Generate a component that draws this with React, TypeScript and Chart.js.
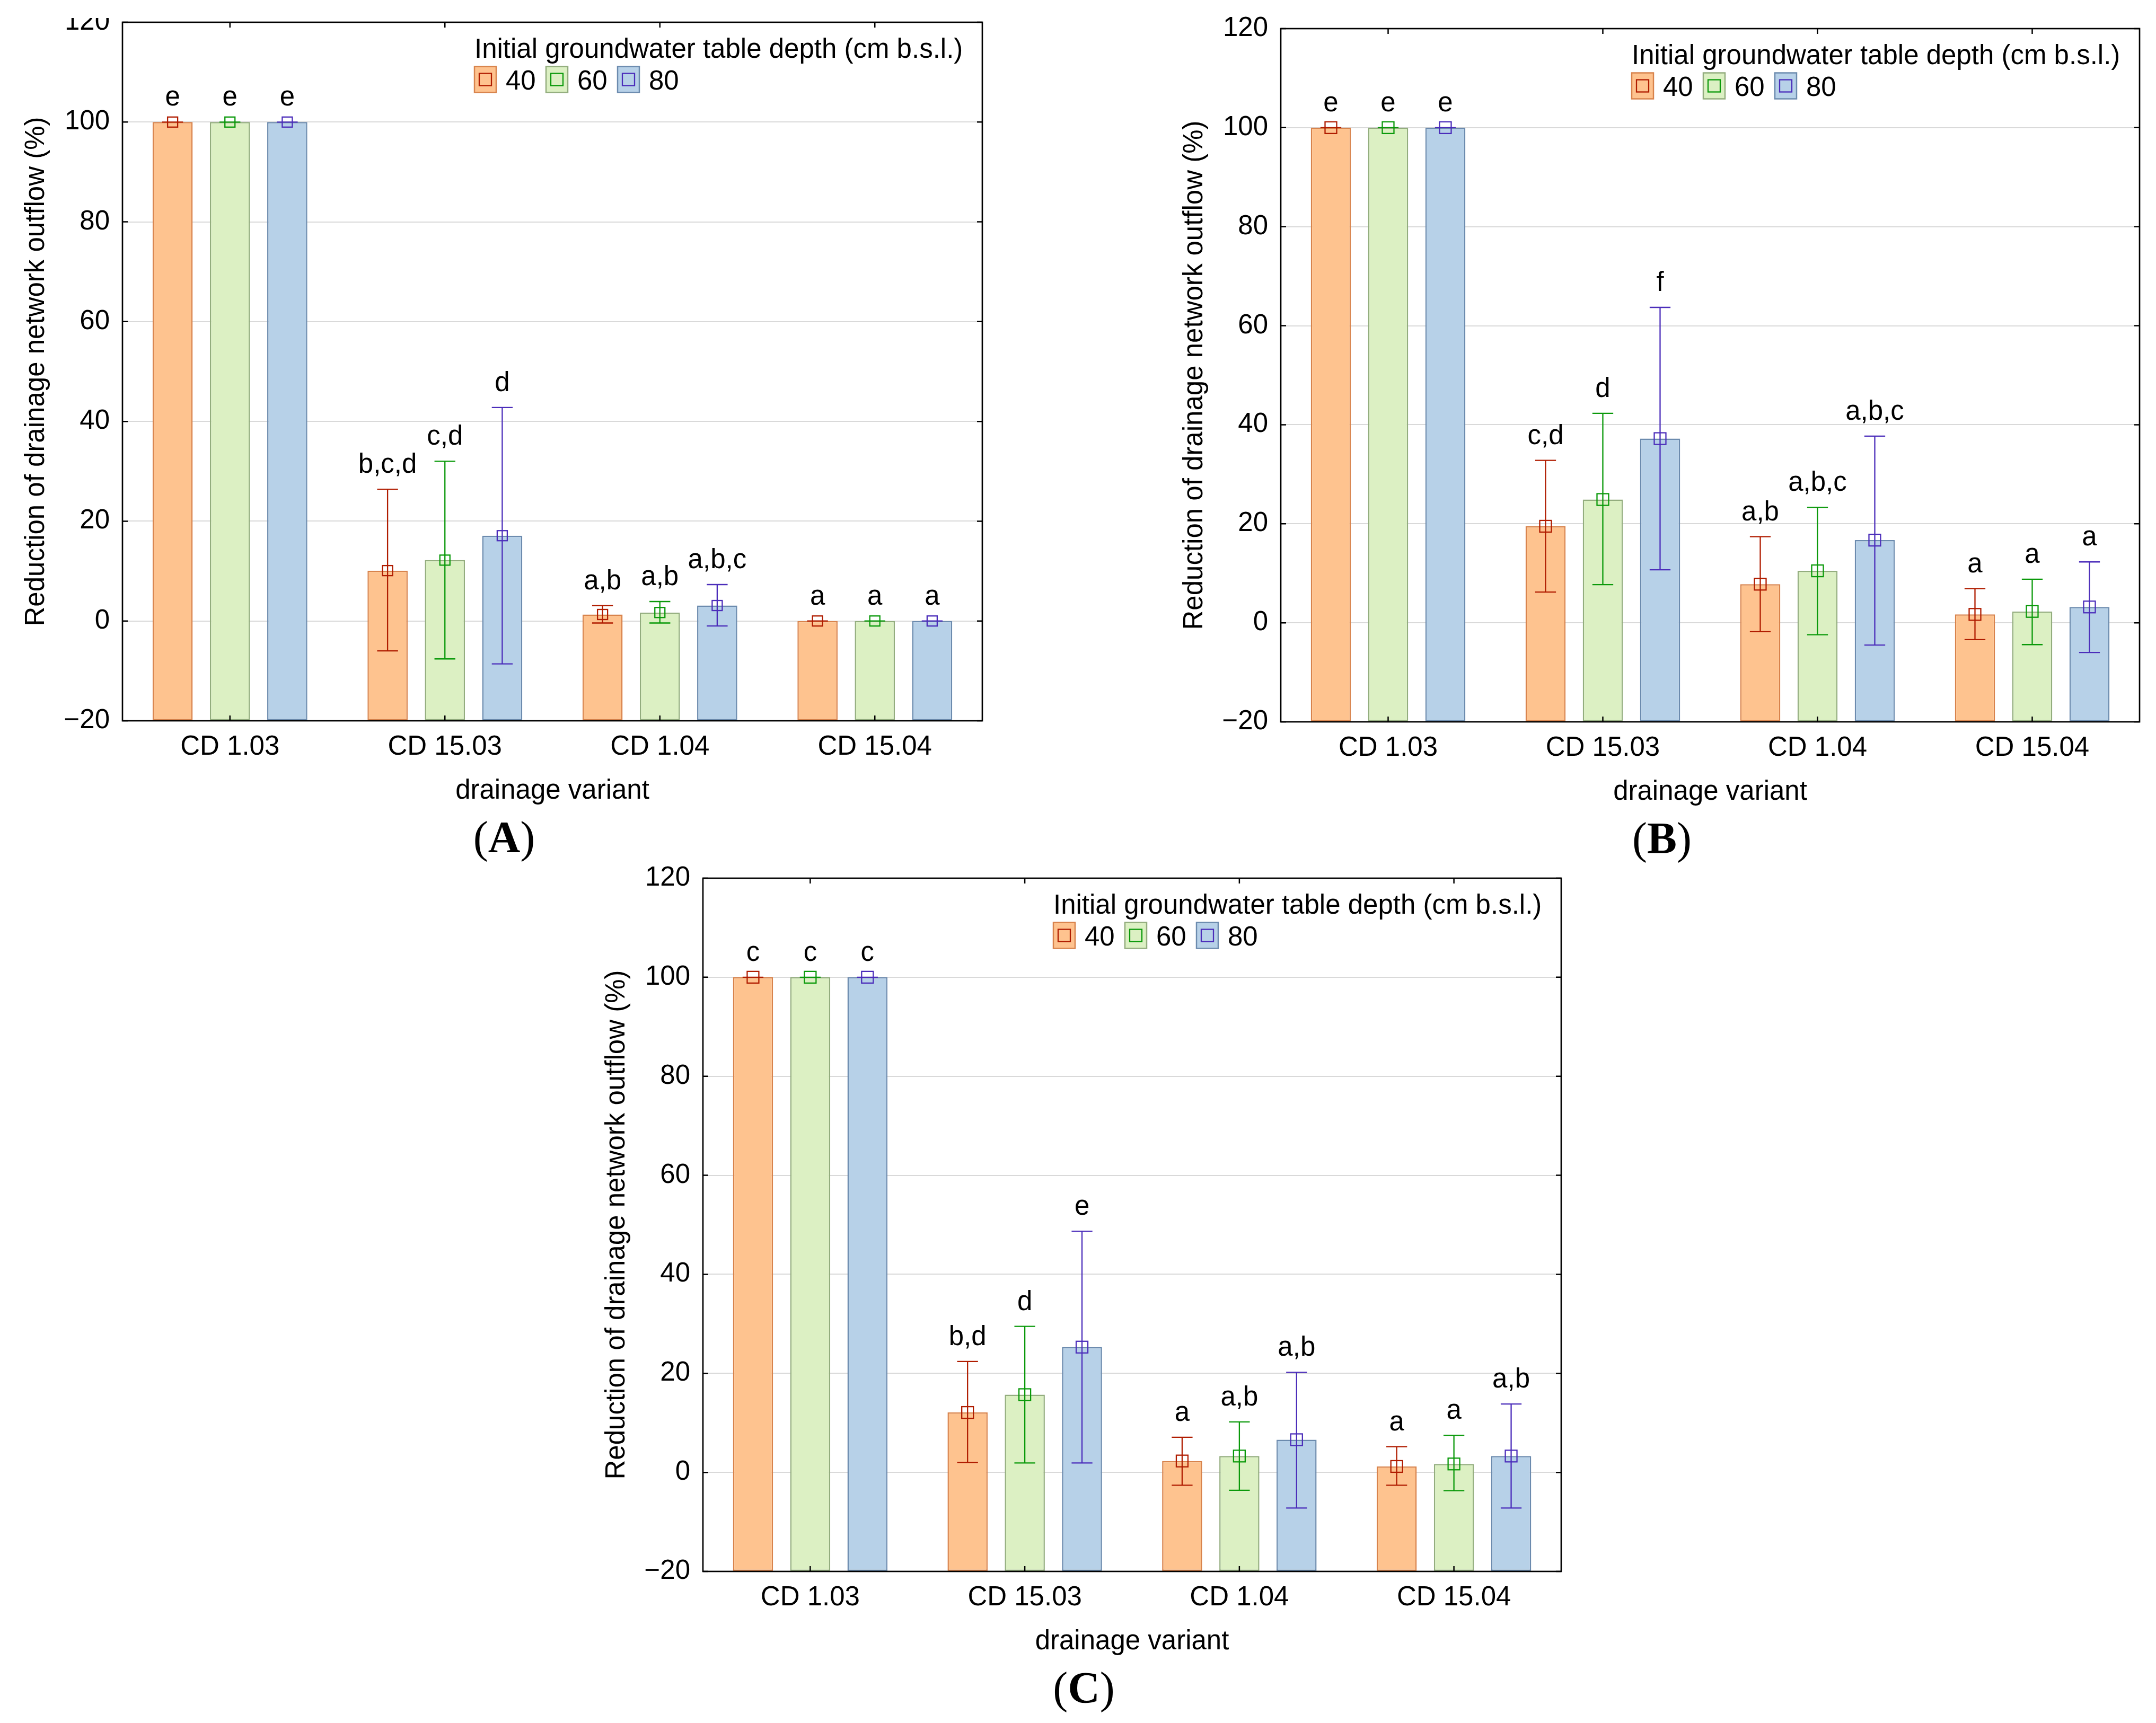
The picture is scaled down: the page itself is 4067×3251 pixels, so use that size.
import React, { useEffect, useRef } from 'react';
import { Chart, registerables } from 'chart.js';

Chart.register(...registerables);

// ---------- data ----------
const CATEGORIES = ['CD 1.03', 'CD 15.03', 'CD 1.04', 'CD 15.04'];
const SERIES = ['40', '60', '80'];
const Y_TICKS = [-20, 0, 20, 40, 60, 80, 100, 120];
const Y_TITLE = 'Reduction of drainage network outflow (%)';
const X_TITLE = 'drainage variant';
const LEGEND_TITLE = 'Initial groundwater table depth (cm b.s.l.)';

// Panel A  (rows: series 40, 60, 80; columns: categories)
const meanA = [[100, 10.1, 1.3, 0], [100, 12.2, 1.7, 0], [100, 17.1, 3.1, 0]];
const lowA = [[100, -6.0, -0.4, 0], [100, -7.6, -0.4, 0], [100, -8.6, -1.0, 0]];
const highA = [[100, 26.4, 3.1, 0], [100, 32.0, 3.9, 0], [100, 42.8, 7.3, 0]];
const lettersA = [['e', 'b,c,d', 'a,b', 'a'], ['e', 'c,d', 'a,b', 'a'], ['e', 'd', 'a,b,c', 'a']];

// Panel B
const meanB = [[100, 19.5, 7.8, 1.7], [100, 24.9, 10.5, 2.3], [100, 37.2, 16.7, 3.2]];
const lowB = [[100, 6.2, -1.8, -3.4], [100, 7.7, -2.4, -4.4], [100, 10.7, -4.5, -6.0]];
const highB = [[100, 32.8, 17.4, 6.9], [100, 42.3, 23.3, 8.8], [100, 63.7, 37.7, 12.3]];
const lettersB = [['e', 'c,d', 'a,b', 'a'], ['e', 'd', 'a,b,c', 'a'], ['e', 'f', 'a,b,c', 'a']];

// Panel C
const meanC = [[100, 12.1, 2.3, 1.2], [100, 15.7, 3.3, 1.7], [100, 25.3, 6.6, 3.3]];
const lowC = [[100, 2.0, -2.6, -2.6], [100, 1.9, -3.6, -3.7], [100, 1.9, -7.2, -7.2]];
const highC = [[100, 22.4, 7.1, 5.2], [100, 29.5, 10.2, 7.5], [100, 48.7, 20.2, 13.8]];
const lettersC = [['c', 'b,d', 'a', 'a'], ['c', 'd', 'a,b', 'a'], ['c', 'e', 'a,b', 'a,b']];

// ---------- styles ----------
const FILL = ['#FEC38F', '#DCF0C3', '#B7D1E8'];
const BORDER = ['#D8834C', '#93AD7E', '#6C8BAE'];
const ERR = ['#B01C00', '#0A990A', '#4B2DBA'];
const FONT = '"Liberation Sans", Arial, Helvetica, sans-serif';
const SERIF = '"Liberation Serif", "Times New Roman", serif';
const FS = 51;
const LH = FS * 1.2;

type Box = { x: number; y: number; w: number; h: number };
type Area = { l: number; t: number; r: number; b: number };
type PanelDef = {
  label: string;
  mean: number[][];
  low: number[][];
  high: number[][];
  letters: string[][];
  canvas: Box;
  area: Area;
  marker: number;
};

const PANELS: PanelDef[] = [
  { label: 'A', mean: meanA, low: lowA, high: highA, letters: lettersA,
    canvas: { x: 0, y: 34, w: 1900, h: 1660 }, area: { l: 231, t: 42, r: 1853, b: 1360 }, marker: 19 },
  { label: 'B', mean: meanB, low: lowB, high: highB, letters: lettersB,
    canvas: { x: 2150, y: 0, w: 1917, h: 1694 }, area: { l: 2416, t: 54, r: 4036, b: 1362 }, marker: 22 },
  { label: 'C', mean: meanC, low: lowC, high: highC, letters: lettersC,
    canvas: { x: 1060, y: 1600, w: 1960, h: 1651 }, area: { l: 1326, t: 1657, r: 2945, b: 2965 }, marker: 22 },
];

const Y_AXIS_W = 162 + LH / 2;
const X_AXIS_H = 133 + LH / 2;

function makeDecor(p: PanelDef) {
  return {
    id: 'decor' + p.label,
    afterDatasetsDraw(chart: any) {
      const ctx: CanvasRenderingContext2D = chart.ctx;
      const { left, right, top, bottom } = chart.chartArea;
      const xs = chart.scales.x;
      const ys = chart.scales.y;
      ctx.save();
      // error bars + mean markers
      chart.data.datasets.forEach((ds: any, di: number) => {
        const meta = chart.getDatasetMeta(di);
        meta.data.forEach((bar: any, i: number) => {
          const cx = bar.x;
          const yLo = ys.getPixelForValue(p.low[di][i]);
          const yHi = ys.getPixelForValue(p.high[di][i]);
          const yM = ys.getPixelForValue(ds.data[i]);
          const cap = bar.width * 0.26;
          ctx.strokeStyle = ERR[di];
          ctx.lineWidth = 2.3;
          ctx.beginPath();
          ctx.moveTo(cx, yLo);
          ctx.lineTo(cx, yHi);
          ctx.moveTo(cx - cap, yLo);
          ctx.lineTo(cx + cap, yLo);
          ctx.moveTo(cx - cap, yHi);
          ctx.lineTo(cx + cap, yHi);
          ctx.stroke();
          const s = p.marker;
          ctx.lineWidth = 2.3;
          ctx.strokeRect(cx - s / 2, yM - s / 2, s, s);
        });
      });
      // frame
      ctx.strokeStyle = '#000';
      ctx.lineWidth = 2.7;
      ctx.strokeRect(left, top, right - left, bottom - top);
      // inward ticks
      ctx.lineWidth = 2.5;
      ctx.beginPath();
      CATEGORIES.forEach((_, i) => {
        const px = xs.getPixelForValue(i);
        ctx.moveTo(px, top);
        ctx.lineTo(px, top + 10);
        ctx.moveTo(px, bottom);
        ctx.lineTo(px, bottom - 10);
      });
      Y_TICKS.forEach((v) => {
        const py = ys.getPixelForValue(v);
        ctx.moveTo(left, py);
        ctx.lineTo(left + 10, py);
        ctx.moveTo(right, py);
        ctx.lineTo(right - 10, py);
      });
      ctx.stroke();
      // letters
      ctx.fillStyle = '#000';
      ctx.font = `${FS}px ${FONT}`;
      ctx.textAlign = 'center';
      ctx.textBaseline = 'alphabetic';
      chart.data.datasets.forEach((ds: any, di: number) => {
        const meta = chart.getDatasetMeta(di);
        meta.data.forEach((bar: any, i: number) => {
          const topVal = Math.max(p.high[di][i], ds.data[i]);
          const py = ys.getPixelForValue(topVal);
          ctx.fillText(p.letters[di][i], bar.x, py - 31);
        });
      });
      // legend
      const lx = right - 958;
      ctx.textAlign = 'left';
      ctx.fillText(LEGEND_TITLE, lx, top + 67);
      const rowC = top + 108;
      chart.data.datasets.forEach((ds: any, i: number) => {
        const bx = lx + i * 135;
        ctx.fillStyle = FILL[i];
        ctx.fillRect(bx, rowC - 24.5, 41, 49);
        ctx.strokeStyle = BORDER[i];
        ctx.lineWidth = 2.5;
        ctx.strokeRect(bx, rowC - 24.5, 41, 49);
        ctx.strokeStyle = ERR[i];
        ctx.lineWidth = 2.3;
        ctx.strokeRect(bx + 20.5 - 11.5, rowC - 11.5, 23, 23);
        ctx.fillStyle = '#000';
        ctx.fillText(ds.label, bx + 59, rowC + 18.5);
      });
      // panel label "(A)"
      const fsL = 84;
      const regular = `${fsL}px ${SERIF}`;
      const bold = `bold ${fsL}px ${SERIF}`;
      ctx.font = regular;
      const w1 = ctx.measureText('(').width;
      const w3 = ctx.measureText(')').width;
      ctx.font = bold;
      const w2 = ctx.measureText(p.label).width;
      const total = w1 + w2 + w3;
      const cxL = (left + right) / 2 - 91;
      const base = bottom + 248;
      let sx = cxL - total / 2;
      ctx.font = regular;
      ctx.fillText('(', sx, base);
      sx += w1;
      ctx.font = bold;
      ctx.fillText(p.label, sx, base);
      sx += w2;
      ctx.font = regular;
      ctx.fillText(')', sx, base);
      ctx.restore();
    },
  };
}

function buildConfig(p: PanelDef): any {
  const { canvas: c, area: a } = p;
  const padding = {
    left: a.l - c.x - Y_AXIS_W,
    top: a.t - c.y,
    right: c.x + c.w - a.r,
    bottom: c.y + c.h - (a.b + X_AXIS_H),
  };
  const font = { family: FONT, size: FS };
  return {
    type: 'bar',
    data: {
      labels: CATEGORIES,
      datasets: SERIES.map((s, i) => ({
        label: s,
        data: p.mean[i],
        backgroundColor: FILL[i],
        borderColor: BORDER[i],
        borderWidth: 2.5,
        borderSkipped: false,
        base: -20,
        categoryPercentage: 0.8,
        barPercentage: 0.7,
      })),
    },
    options: {
      responsive: false,
      maintainAspectRatio: false,
      animation: false,
      events: [],
      layout: { padding },
      plugins: {
        legend: { display: false },
        tooltip: { enabled: false },
        title: { display: false },
      },
      scales: {
        x: {
          grid: { display: false, drawTicks: false },
          border: { display: false },
          ticks: { font, color: '#000', padding: 19, maxRotation: 0, autoSkip: false },
          title: { display: true, text: X_TITLE, font, color: '#000', padding: 0 },
          afterFit: (s: any) => {
            s.height = X_AXIS_H;
            s.paddingLeft = 0;
            s.paddingRight = 0;
            s.paddingTop = 0;
            s.paddingBottom = 0;
          },
        },
        y: {
          min: -20,
          max: 120,
          afterBuildTicks: (s: any) => {
            s.ticks = Y_TICKS.map((v) => ({ value: v }));
          },
          grid: { color: '#d9d9d9', lineWidth: 2, drawTicks: false },
          border: { display: false },
          ticks: {
            font,
            color: '#000',
            padding: 24,
            callback: (v: any) => (Number(v) < 0 ? '\u2212' + Math.abs(Number(v)) : String(v)),
          },
          title: { display: true, text: Y_TITLE, font, color: '#000', padding: 0 },
          afterFit: (s: any) => {
            s.width = Y_AXIS_W;
            s.paddingLeft = 0;
            s.paddingRight = 0;
            s.paddingTop = 0;
            s.paddingBottom = 0;
          },
        },
      },
    },
    plugins: [makeDecor(p)],
  };
}

function Panel({ def }: { def: PanelDef }) {
  const ref = useRef<HTMLCanvasElement | null>(null);
  useEffect(() => {
    if (!ref.current) return;
    const chart = new Chart(ref.current, buildConfig(def));
    return () => chart.destroy();
  }, [def]);
  const c = def.canvas;
  return (
    <canvas
      ref={ref}
      width={c.w}
      height={c.h}
      style={{ position: 'absolute', left: c.x, top: c.y, width: c.w, height: c.h }}
    />
  );
}

export default function App() {
  return (
    <div
      style={{
        position: 'absolute',
        left: 0,
        top: 0,
        width: 4067,
        height: 3251,
        background: '#ffffff',
        overflow: 'hidden',
      }}
    >
      {PANELS.map((p) => (
        <Panel key={p.label} def={p} />
      ))}
    </div>
  );
}
